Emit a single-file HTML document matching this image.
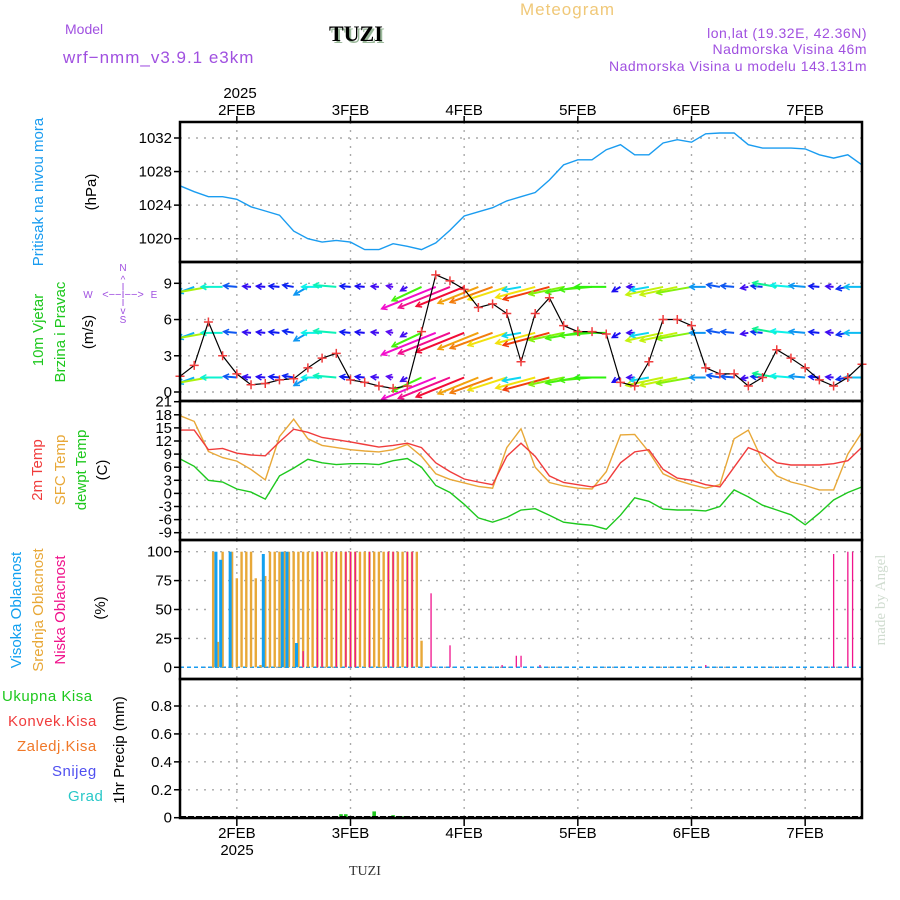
<!DOCTYPE html>
<html><head><meta charset="utf-8">
<style>
html,body{margin:0;padding:0;background:#fff;}
#wrap{position:relative;width:900px;height:900px;overflow:hidden;font-family:"Liberation Sans",sans-serif;}
svg{position:absolute;left:0;top:0;}
</style></head>
<body>
<div id="wrap">
<svg id="chart" width="900" height="900" viewBox="0 0 900 900"></svg>
</div>
<script>
// ---- data (3-hourly from 1 Feb 12:00, 49 points) ----
const pressure = [1026.3,1025.6,1025.0,1025.0,1024.7,1023.8,1023.3,1022.8,1020.9,1020.0,1019.6,1019.8,1019.6,1018.7,1018.7,1019.4,1019.1,1018.7,1019.5,1021.0,1022.7,1023.2,1023.7,1024.5,1025.0,1025.5,1027.0,1028.8,1029.4,1029.4,1030.6,1031.2,1030.0,1030.0,1031.4,1031.8,1031.5,1032.5,1032.6,1032.6,1031.2,1030.8,1030.8,1030.8,1030.7,1030.0,1029.6,1030.0,1028.8];
const windSpeed = [1.3,2.2,5.8,3.0,1.5,0.6,0.7,1.0,1.1,2.0,2.8,3.2,1.0,0.8,0.5,0.3,0.5,5.0,9.7,9.2,8.5,7.0,7.3,6.5,2.5,6.5,7.8,5.5,5.0,5.0,4.8,0.8,0.5,2.5,6.0,6.0,5.5,2.0,1.5,1.5,0.5,1.2,3.5,2.8,2.0,1.0,0.5,1.2,2.3];
const windDir = [60,70,80,90,95,95,95,95,100,60,90,95,95,95,95,100,60,65,68,68,68,68,70,72,80,75,75,78,80,85,90,60,90,80,78,78,80,90,100,95,80,95,100,95,95,95,95,80,90];
const temp2m = [14.5,14.5,10.0,10.3,9.2,8.8,8.6,11.8,14.7,14.0,12.8,12.3,11.8,11.2,10.6,11.0,11.5,10.5,7.0,5.0,3.3,2.6,2.0,8.5,11.5,8.5,4.0,2.5,2.0,1.5,2.5,7.0,9.5,10.0,5.5,3.5,3.0,2.0,1.5,6.0,10.5,9.2,7.0,6.5,6.5,6.5,6.8,7.5,10.6];
const tempSfc = [17.8,16.5,9.6,8.2,7.4,5.5,3.1,13.0,17.0,12.5,11.0,10.5,10.0,9.7,9.5,10.0,11.2,8.5,4.5,3.2,2.4,1.6,1.2,10.5,14.8,6.0,2.5,1.7,1.2,1.0,5.0,13.4,13.5,9.5,4.5,3.0,2.0,1.2,2.0,12.5,14.5,7.5,4.0,2.6,1.8,0.8,0.8,9.0,14.0];
const dewpt = [7.9,6.2,3.0,2.6,1.0,0.3,-1.3,4.0,5.8,7.8,7.0,6.6,6.8,6.8,6.6,7.5,8.0,6.0,1.8,0.2,-2.5,-5.6,-6.6,-5.5,-3.8,-3.5,-5.0,-6.6,-7.0,-7.3,-8.2,-5.0,-1.0,-1.8,-3.6,-3.8,-3.8,-4.0,-3.0,0.8,-0.8,-2.7,-3.8,-4.9,-7.2,-4.5,-1.5,0.2,1.5];
// ---- cloud cover (hour index, value %) ----
const midHours = [7,8,9,11,12,13,14,15,16,17,18,19,20,21,22,23,24,25,26,27,28,29,30,31,32,33,34,35,36,37,38,39,40,41,42,43,44,45,46,47,48,49,50,51];
const midVals  = [100,22,100,100,77,100,100,100,77,2,79,100,100,100,100,100,100,100,100,100,100,100,100,100,100,100,100,100,100,100,100,100,100,100,100,100,100,100,100,100,100,100,100,23];
const highHours = [7,8,10,17,21,22,24];
const highVals  = [100,93,100,98,100,100,21];
const lowHours = [26,29,30,33,35,36,37,40,44,45,48,49,53,57,68,71,72,76,111,138,141,142];
const lowVals  = [14,100,100,100,100,100,100,100,100,100,100,100,64,19,2,10,10,2,2,98,100,100];
// ---- precipitation (hour index, mm) ----
const precipHours = [34,35,40,41,45,47];
const precipVals  = [0.025,0.025,0.01,0.045,0.018,0.01];
// ---- tick labels ----
const dayLabels = ["2FEB","3FEB","4FEB","5FEB","6FEB","7FEB"];
const pTicks = [1020,1024,1028,1032];
const wTicks = [0,3,6,9];
const tTicks = [-9,-6,-3,0,3,6,9,12,15,18,21];
const cTicks = [0,25,50,75,100];
const rTicks = [0,0.2,0.4,0.6,0.8];
const windRows = [8.7,4.9,1.2];

const NS="http://www.w3.org/2000/svg";
const svg=document.getElementById('chart');
const L=180,R=862;
const X=h=>L+h*(R-L)/144;
const Xk=k=>X(k*3);
function lin(v0,y0,v1,y1){return v=>y0+(v-v0)*(y1-y0)/(v1-v0);}
const Yp=lin(1020,238.7,1032,138);
const Yw=lin(0,392,9,283.3);
const Yt=lin(-9,532.7,21,401.7);
const Yc=lin(0,667.3,100,551.7);
const Yr=lin(0,817.7,0.8,706);
function mk(tag,attrs,parent){const e=document.createElementNS(NS,tag);for(const a in attrs)e.setAttribute(a,attrs[a]);(parent||svg).appendChild(e);return e;}
function txt(s,x,y,attrs,parent){const e=mk('text',Object.assign({x:x,y:y},attrs),parent);e.textContent=s;return e;}

const defs=mk('defs',{});
const cp=mk('clipPath',{id:'windclip'},defs);
mk('rect',{x:L,y:263,width:R-L,height:137},cp);

const panels=[[122,262,'pressure-panel'],[262,401,'wind-panel'],[401,540,'temperature-panel'],[540,679,'cloud-panel'],[679,818,'precip-panel']];
panels.forEach(p=>{
  for(let d=0;d<6;d++){
    const x=X(12+24*d);
    const g=mk('line',{x1:x,x2:x,y1:p[0],y2:p[1],stroke:'#aaa','stroke-width':1.4,'stroke-dasharray':'2,6'});
    
    
  }
});
function hgrid(ticks,Y,fmt,name){
  ticks.forEach(t=>{
    const y=Y(t);
    const g=mk('line',{x1:L,x2:R,y1:y,y2:y,stroke:'#aaa','stroke-width':1.4,'stroke-dasharray':'2,6'});
    
    
    mk('line',{x1:L-6,x2:L,y1:y,y2:y,stroke:'#000','stroke-width':1.5});
    const lb=txt(fmt(t),L-8,y+5,{'text-anchor':'end','font-size':15,fill:'#000','font-family':'Liberation Sans, sans-serif'});
    
    
  });
}
hgrid(pTicks,Yp,t=>String(t),'pressure');
hgrid(wTicks,Yw,t=>String(t),'wind');
hgrid(tTicks,Yt,t=>String(t),'temperature');
hgrid(cTicks,Yc,t=>String(t),'cloud');
hgrid(rTicks,Yr,t=>t===0?'0':t.toFixed(1),'precip');

function polyline(vals,Y,color,name,w){
  const pts=vals.map((v,k)=>Xk(k).toFixed(1)+','+Y(v).toFixed(1)).join(' ');
  const e=mk('polyline',{points:pts,fill:'none',stroke:color,'stroke-width':w||1.4});
  
  
  return e;
}
polyline(pressure,Yp,'#1a9cf0','pressure-line');

// wind arrows
const wg=mk('g',{'clip-path':'url(#windclip)'});


windRows.forEach(row=>{
  windSpeed.forEach((s,k)=>{
    const d=windDir[k]*Math.PI/180;
    const len=5+s*5.5;
    const x0=Xk(k),y0=Yw(row);
    const dx=-Math.sin(d)*len,dy=Math.cos(d)*len;
    let hue=270-s*33; if(hue<0)hue+=360;
    const col='hsl('+hue+',90%,50%)';
    const a=mk('line',{x1:x0,y1:y0,x2:x0+dx,y2:y0+dy,stroke:col,'stroke-width':2},wg);
    
    
    const ang=Math.atan2(dy,dx);
    const hx=x0+dx,hy=y0+dy;
    const h1=[hx-6*Math.cos(ang-0.5),hy-6*Math.sin(ang-0.5)],h2=[hx-6*Math.cos(ang+0.5),hy-6*Math.sin(ang+0.5)];
    const hd=mk('polyline',{points:h1.join(',')+' '+hx+','+hy+' '+h2.join(','),fill:'none',stroke:col,'stroke-width':1.5},wg);
    
    
  });
});
polyline(windSpeed,Yw,'#000','wind-speed-line',1.2);
windSpeed.forEach((s,k)=>{
  const x=Xk(k),y=Yw(s);
  const c=mk('path',{d:`M${x-4.5},${y}H${x+4.5}M${x},${y-4.5}V${y+4.5}`,stroke:'#f03c3c','stroke-width':1.5});
  
  
});

polyline(tempSfc,Yt,'#e8a838','sfc-temp-line');
polyline(temp2m,Yt,'#f03c3c','2m-temp-line');
polyline(dewpt,Yt,'#1ec81e','dewpoint-line');

// clouds
const base=mk('line',{x1:L,x2:R,y1:Yc(0),y2:Yc(0),stroke:'#1a9cf0','stroke-width':1.5,'stroke-dasharray':'4,3'});


midHours.forEach((h,i)=>{
  const x=X(h),y=Yc(midVals[i]);
  const b=mk('rect',{x:x-1.2,y:y,width:2.4,height:Yc(0)-y,fill:'#e8a838'});
  
  
});
highHours.forEach((h,i)=>{
  const x=X(h),y=Yc(highVals[i]);
  const b=mk('rect',{x:x+1.3,y:y,width:3,height:Yc(0)-y,fill:'#12a0f0'});
  
  
});
lowHours.forEach((h,i)=>{
  const x=X(h),y=Yc(lowVals[i]);
  const b=mk('rect',{x:x-0.6,y:y,width:1.3,height:Yc(0)-y,fill:'#f0148c'});
  
  
});

// precip
precipHours.forEach((h,i)=>{
  const x=X(h),y=Yr(precipVals[i]);
  const b=mk('rect',{x:x-1.8,y:y,width:3.6,height:Yr(0)-y,fill:'#1ec81e'});
  
  
});
const pb=mk('line',{x1:L,x2:R,y1:817,y2:817,stroke:'#000','stroke-width':2,'stroke-dasharray':'6,2'});



// frames
panels.forEach(p=>{
  const f=mk('rect',{x:L,y:p[0],width:R-L,height:p[1]-p[0],fill:'none',stroke:'#000','stroke-width':2.5});
  
  
});
// date labels
dayLabels.forEach((d,i)=>{
  const x=X(12+24*i);
  mk('line',{x1:x,x2:x,y1:116,y2:122,stroke:'#000','stroke-width':1.5});
  mk('line',{x1:x,x2:x,y1:818,y2:826,stroke:'#000','stroke-width':1.5});
  const t1=txt(d,x,115,{'text-anchor':'middle','font-size':15,fill:'#000'});
  
  
  const t2=txt(d,x,838,{'text-anchor':'middle','font-size':15,fill:'#000'});
  
  
});
</script>
<svg width="900" height="900" style="position:absolute;left:0;top:0" font-family="Liberation Sans, sans-serif">
  <text x="65" y="34" font-size="14" fill="#a050e0">Model</text>
  <text x="63" y="63" font-size="17" fill="#a050e0" letter-spacing="1">wrf−nmm_v3.9.1 e3km</text>
  <text x="331" y="43" font-size="22" font-weight="bold" fill="#9ab89a" font-family="Liberation Serif, serif">TUZI</text>
  <text x="329" y="41" font-size="22" font-weight="bold" fill="#000" font-family="Liberation Serif, serif">TUZI</text>
  <text x="520" y="15" font-size="17" fill="#f0c878" letter-spacing="1">Meteogram</text>
  <text x="867" y="38" font-size="14" fill="#a050e0" text-anchor="end" letter-spacing="0.5">lon,lat (19.32E, 42.36N)</text>
  <text x="867" y="54" font-size="14" fill="#a050e0" text-anchor="end" letter-spacing="0.5">Nadmorska Visina 46m</text>
  <text x="867" y="71" font-size="14" fill="#a050e0" text-anchor="end" letter-spacing="0.5">Nadmorska Visina u modelu 143.131m</text>
  <text x="240" y="98" font-size="15" text-anchor="middle">2025</text>
  <text x="237" y="855" font-size="15" text-anchor="middle">2025</text>
  <text x="349" y="875" font-size="14" fill="#333" font-family="Liberation Serif, serif">TUZI</text>
  <text transform="translate(43,192) rotate(-90)" font-size="15" fill="#1a9cf0" text-anchor="middle">Pritisak na nivou mora</text>
  <text transform="translate(96,192) rotate(-90)" font-size="15" text-anchor="middle">(hPa)</text>
  <text transform="translate(43,330) rotate(-90)" font-size="15" fill="#1ec81e" text-anchor="middle">10m Vjetar</text>
  <text transform="translate(65,332) rotate(-90)" font-size="15" fill="#1ec81e" text-anchor="middle">Brzina i Pravac</text>
  <text transform="translate(93,332) rotate(-90)" font-size="15" text-anchor="middle">(m/s)</text>
  <g fill="#a050e0" font-size="10" text-anchor="middle">
    <text x="123" y="271">N</text><text x="123" y="323">S</text><text x="88" y="298">W</text><text x="154" y="298">E</text>
    <text x="123" y="298" font-size="11">&lt;−−I−−&gt;</text>
    <text x="123" y="283">^</text><text x="123" y="290">I</text><text x="123" y="306">I</text><text x="123" y="314">v</text>
  </g>
  <text transform="translate(42,470) rotate(-90)" font-size="15" fill="#f03c3c" text-anchor="middle">2m Temp</text>
  <text transform="translate(65,470) rotate(-90)" font-size="15" fill="#e8a838" text-anchor="middle">SFC Temp</text>
  <text transform="translate(86,470) rotate(-90)" font-size="15" fill="#1ec81e" text-anchor="middle">dewpt Temp</text>
  <text transform="translate(107,470) rotate(-90)" font-size="15" text-anchor="middle">(C)</text>
  <text transform="translate(21,610) rotate(-90)" font-size="15" fill="#12a0f0" text-anchor="middle">Visoka Oblacnost</text>
  <text transform="translate(43,610) rotate(-90)" font-size="15" fill="#e8a838" text-anchor="middle">Srednja Oblacnost</text>
  <text transform="translate(65,610) rotate(-90)" font-size="15" fill="#f0148c" text-anchor="middle">Niska Oblacnost</text>
  <text transform="translate(105,608) rotate(-90)" font-size="15" text-anchor="middle">(%)</text>
  <text x="2" y="701" font-size="15" fill="#1ec81e" letter-spacing="0.5">Ukupna Kisa</text>
  <text x="8" y="726" font-size="15" fill="#f03c3c" letter-spacing="0.5">Konvek.Kisa</text>
  <text x="17" y="751" font-size="15" fill="#f07828" letter-spacing="0.5">Zaledj.Kisa</text>
  <text x="52" y="776" font-size="15" fill="#5050f0" letter-spacing="0.5">Snijeg</text>
  <text x="68" y="801" font-size="15" fill="#28c8c8" letter-spacing="0.5">Grad</text>
  <text transform="translate(124,750) rotate(-90)" font-size="15" text-anchor="middle">1hr Precip (mm)</text>
  <text transform="translate(885,600) rotate(-90)" font-size="15" fill="#d0dcd0" text-anchor="middle" font-family="Liberation Serif, serif">made by Angel</text>
</svg>
</body></html>
